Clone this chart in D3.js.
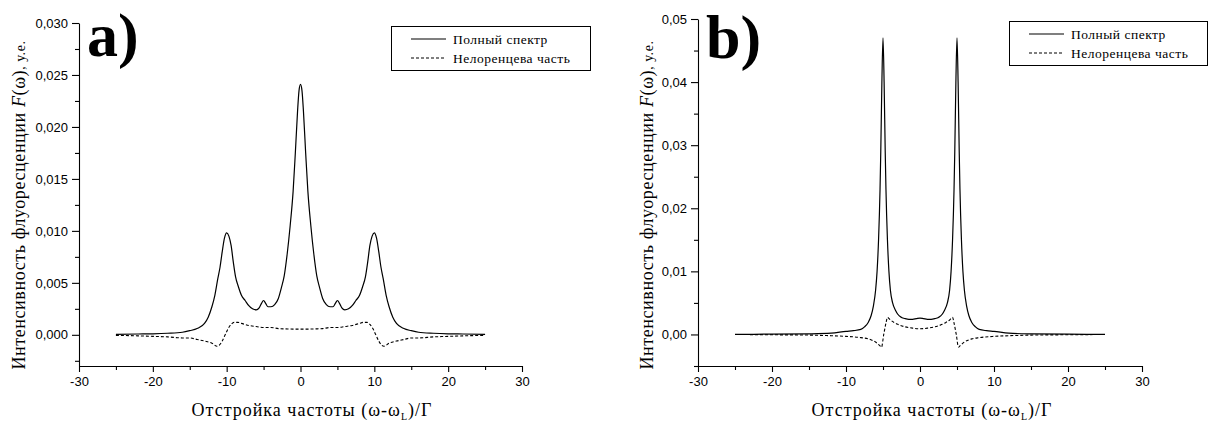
<!DOCTYPE html>
<html><head><meta charset="utf-8">
<script src="https://cdn.jsdelivr.net/npm/d3@7"></script>
<style>
html,body{margin:0;padding:0;background:#fff;}
.serif{font-family:"Liberation Serif","DejaVu Serif",serif !important;}
.tick text{font-family:"Liberation Sans",Arial,sans-serif;font-size:13px;fill:#000;}
</style></head>
<body>
<svg id="chart" width="1210" height="425"></svg>
<script>
// ---------- data: panel a ----------
const xFullA = [-25,-22,-20,-18,-16,-15,-14,-13,-12.5,-12,-11.6,-11.2,-10.9,-10.6,-10.3,-10,-9.7,-9.4,-9.1,-8.8,-8.4,-8,-7.5,-7,-6.5,-6,-5.6,-5.3,-5,-4.7,-4.4,-4,-3.5,-3,-2.6,-2.2,-1.8,-1.4,-1,-0.7,-0.4,-0.2,0,
  0.2,0.4,0.7,1,1.4,1.8,2.2,2.6,3,3.5,4,4.4,4.7,5,5.3,5.6,6,6.5,7,7.5,8,8.4,8.8,9.1,9.4,9.7,10,10.3,10.6,10.9,11.2,11.6,12,12.5,13,14,15,16,18,20,22,25];
const yFullA = [0.00005,0.00008,0.0001,0.00015,0.00025,0.0004,0.0006,0.0011,0.0017,0.0027,0.0038,0.0054,0.0065,0.0080,0.0093,0.0098,0.0095,0.0086,0.0070,0.0056,0.0046,0.0038,0.0033,0.0028,0.0025,0.0024,0.0026,0.0030,0.0033,0.0030,0.0027,0.0027,0.0029,0.0035,0.0045,0.0057,0.0078,0.0105,0.0138,0.0175,0.0215,0.0235,0.0241,
  0.0235,0.0215,0.0175,0.0138,0.0105,0.0078,0.0057,0.0045,0.0035,0.0029,0.0027,0.0027,0.0030,0.0033,0.0030,0.0026,0.0024,0.0025,0.0028,0.0033,0.0038,0.0046,0.0056,0.0070,0.0086,0.0095,0.0098,0.0093,0.0080,0.0065,0.0054,0.0038,0.0027,0.0017,0.0011,0.0006,0.0004,0.00025,0.00015,0.0001,0.00008,0.00005];
const xNonLorA = [-25,-22,-20,-18,-16,-15,-14,-13,-12,-11.3,-11,-10.6,-10.2,-9.8,-9.4,-9,-8.5,-8,-7,-6,-5,-4,-3,-2,-1,0,
  1,2,3,4,5,6,7,8,8.5,9,9.4,9.8,10.2,10.6,11,11.3,12,13,14,15,16,18,20,22,25];
const yNonLorA = [-0.00005,-0.0001,-0.00015,-0.0002,-0.0003,-0.0003,-0.00045,-0.0006,-0.0008,-0.0011,-0.0010,-0.0006,0.0000,0.0006,0.0010,0.0012,0.0012,0.0011,0.0009,0.0008,0.0007,0.0007,0.0006,0.00057,0.00055,0.00055,
  0.00055,0.00057,0.0006,0.0007,0.0007,0.0008,0.0009,0.0011,0.0012,0.0012,0.0010,0.0006,0.0000,-0.0006,-0.0010,-0.0011,-0.0008,-0.0006,-0.00045,-0.0003,-0.0003,-0.0002,-0.00015,-0.0001,-0.00005];

// ---------- data: panel b ----------
const xFullB = [-25,-20,-15,-12,-10,-9,-8,-7.5,-7,-6.6,-6.3,-6,-5.8,-5.6,-5.4,-5.3,-5.15,-5,-4.85,-4.7,-4.6,-4.4,-4.2,-4,-3.7,-3.3,-3,-2.5,-2,-1.5,-1,-0.5,0,
  0.5,1,1.5,2,2.5,3,3.3,3.7,4,4.2,4.4,4.6,4.7,4.85,5,5.15,5.3,5.4,5.6,5.8,6,6.3,6.6,7,7.5,8,9,10,12,15,20,25];
const yFullB = [0,0.00005,0.0001,0.0002,0.0005,0.0006,0.0008,0.0012,0.0019,0.0030,0.0045,0.0070,0.0100,0.0150,0.0230,0.0290,0.0400,0.0470,0.0400,0.0290,0.0230,0.0150,0.0100,0.0070,0.0050,0.0038,0.0032,0.0027,0.0025,0.0024,0.0024,0.0025,0.0026,
  0.0025,0.0024,0.0024,0.0025,0.0027,0.0032,0.0038,0.0050,0.0070,0.0100,0.0150,0.0230,0.0290,0.0400,0.0470,0.0400,0.0290,0.0230,0.0150,0.0100,0.0070,0.0045,0.0030,0.0019,0.0012,0.0008,0.0006,0.0005,0.0002,0.0001,0.00005,0];
const xNonLorB = [-25,-20,-15,-12,-10,-8,-7,-6.5,-6,-5.6,-5.4,-5.2,-4.9,-4.6,-4.4,-4,-3.5,-3,-2,-1,0,
  1,2,3,3.5,4,4.4,4.6,4.9,5.2,5.4,5.6,6,6.5,7,8,10,12,15,20,25];
const yNonLorB = [0,-0.00005,-0.0001,-0.0002,-0.0003,-0.0005,-0.0007,-0.0009,-0.0012,-0.0016,-0.0018,-0.0020,0.0000,0.0018,0.0027,0.0023,0.0019,0.0016,0.0012,0.0010,0.0009,
  0.0010,0.0012,0.0016,0.0019,0.0023,0.0027,0.0018,0.0000,-0.0020,-0.0018,-0.0016,-0.0012,-0.0009,-0.0007,-0.0005,-0.0003,-0.0002,-0.0001,-0.00005,0];

// ---------- ticks / labels ----------
const xTicks = [-30,-20,-10,0,10,20,30];
const xMinor = [-25,-15,-5,5,15,25];
const yTicksA = [0,0.005,0.010,0.015,0.020,0.025,0.030];
const yMinorA = [-0.0025,0.0025,0.0075,0.0125,0.0175,0.0225,0.0275];
const yTicksB = [0,0.01,0.02,0.03,0.04,0.05];
const yMinorB = [-0.005,0.005,0.015,0.025,0.035,0.045];
const legendLabels = ["Полный спектр","Нелоренцева часть"];
const panelLetters = ["a)","b)"];
const xTitle = ["Отстройка частоты (ω-ω","L",")/Γ"];
const yTitle = ["Интенсивность флуоресценции  ","F","(ω)",", у.е."];

const svg = d3.select("#chart");

const panels = [
  {xs:[79,522], ys:[366,23], yDom:[-0.003,0.030], yTicks:yTicksA, yMinor:yMinorA, dec:3,
   full:xFullA.map((x,i)=>[x,yFullA[i]]), nonlor:xNonLorA.map((x,i)=>[x,yNonLorA[i]]),
   letter:panelLetters[0], letterX:87, letterY:56,
   leg:{x:391,y:26,w:199,h:44}, yTitleX:25, yTitleY:205, xTitleX:312},
  {xs:[698,1142], ys:[366,19], yDom:[-0.005,0.05], yTicks:yTicksB, yMinor:yMinorB, dec:2,
   full:xFullB.map((x,i)=>[x,yFullB[i]]), nonlor:xNonLorB.map((x,i)=>[x,yNonLorB[i]]),
   letter:panelLetters[1], letterX:706, letterY:58,
   leg:{x:1009,y:21,w:198,h:44}, yTitleX:653, yTitleY:205, xTitleX:932}
];

panels.forEach(p=>{
  const x = d3.scaleLinear().domain([-30,30]).range(p.xs);
  const y = d3.scaleLinear().domain(p.yDom).range(p.ys);
  const g = svg.append("g");
  const fmtY = d => d3.format("."+p.dec+"f")(d).replace(".",",").replace("−","-");

  // minor ticks
  g.append("g").attr("transform",`translate(0,${p.ys[0]})`)
    .call(d3.axisBottom(x).tickValues(xMinor).tickSize(4).tickFormat("").tickSizeOuter(0))
    .call(s=>s.select(".domain").remove());
  g.append("g").attr("transform",`translate(${p.xs[0]},0)`)
    .call(d3.axisLeft(y).tickValues(p.yMinor).tickSize(4).tickFormat("").tickSizeOuter(0))
    .call(s=>s.select(".domain").remove());
  // major axes
  g.append("g").attr("transform",`translate(0,${p.ys[0]})`)
    .call(d3.axisBottom(x).tickValues(xTicks).tickSize(6).tickSizeOuter(0).tickPadding(5).tickFormat(d=>String(d)));
  g.append("g").attr("transform",`translate(${p.xs[0]},0)`)
    .call(d3.axisLeft(y).tickValues(p.yTicks).tickSize(7).tickSizeOuter(0).tickPadding(4).tickFormat(fmtY));
  g.selectAll(".domain, .tick line").attr("stroke","#000").attr("stroke-width",1.1);

  const line = d3.line().x(d=>x(d[0])).y(d=>y(d[1])).curve(d3.curveMonotoneX);
  g.append("path").datum(p.full).attr("d",line).attr("fill","none").attr("stroke","#000").attr("stroke-width",1.2);
  g.append("path").datum(p.nonlor).attr("d",line).attr("fill","none").attr("stroke","#000").attr("stroke-width",1.1).attr("stroke-dasharray","3,2");

  // panel letter
  g.append("text").attr("class","serif").attr("x",p.letterX).attr("y",p.letterY).attr("font-size",62).attr("font-weight","bold")
    .text(p.letter);

  // legend
  const L = p.leg;
  g.append("rect").attr("x",L.x+0.5).attr("y",L.y+0.5).attr("width",L.w).attr("height",L.h)
    .attr("fill","#fff").attr("stroke","#000").attr("stroke-width",1);
  [0,1].forEach(i=>{
    const ry = L.y + 13 + i*19;
    g.append("line").attr("x1",L.x+20).attr("x2",L.x+55).attr("y1",ry).attr("y2",ry)
      .attr("stroke","#000").attr("stroke-width",1.1).attr("stroke-dasharray", i ? "3,2" : null);
    g.append("text").attr("class","serif").attr("x",L.x+62).attr("y",ry+4.5).attr("font-size",13.5).attr("letter-spacing",0.5).text(legendLabels[i]);
  });

  // y title
  const yt = g.append("text").attr("class","serif").attr("transform",`translate(${p.yTitleX},${p.yTitleY}) rotate(-90)`)
    .attr("text-anchor","middle").attr("font-size",18).attr("letter-spacing",0.6);
  yt.append("tspan").text(yTitle[0]);
  yt.append("tspan").attr("font-style","italic").text(yTitle[1]);
  yt.append("tspan").text(yTitle[2]);
  yt.append("tspan").attr("font-size",14).text(yTitle[3]);

  // x title
  const xt = g.append("text").attr("class","serif").attr("x",p.xTitleX).attr("y",416).attr("text-anchor","middle")
    .attr("font-size",18).attr("letter-spacing",1);
  xt.append("tspan").text(xTitle[0]);
  xt.append("tspan").attr("font-size",10).attr("dy",4).text(xTitle[1]);
  xt.append("tspan").attr("dy",-4).text(xTitle[2]);
});
</script>
</body></html>
